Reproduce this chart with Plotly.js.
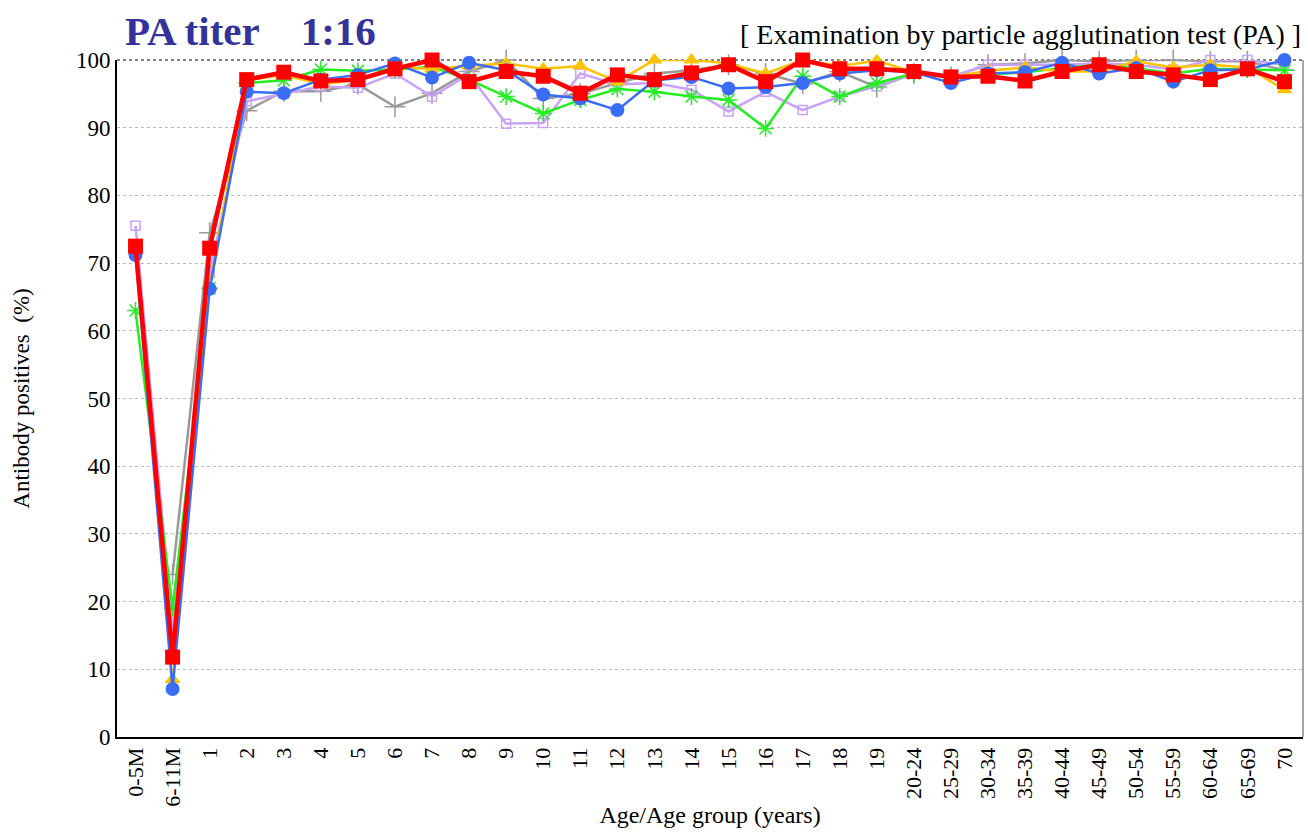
<!DOCTYPE html>
<html><head><meta charset="utf-8">
<script src="https://cdn.plot.ly/plotly-3.0.1.min.js"></script>
<style>body{margin:0;background:#fff}#chart{width:1308px;height:832px}</style>
</head><body><div id="chart"></div>
<script>
const categories = ["0-5M","6-11M","1","2","3","4","5","6","7","8","9","10","11","12","13","14","15","16","17","18","19","20-24","25-29","30-34","35-39","40-44","45-49","50-54","55-59","60-64","65-69","70"];

const seriesGray   = [null, 24.0, 74.5, 92.5, 95.4, 95.4, 96.4, 93.1, 95.1, 98.3, 100, 94.3, 95.0, 96.6, 98.0, 98.5, 99.3, 98.0, 96.5, 98.3, 96.0, 98.0, 97.5, 99.3, 99.5, 100, 99.8, 100, 100, 99.8, 99.8, 98.5];
const seriesPurple = [75.5, 16.0, 68.5, 93.9, 95.0, 96.1, 95.9, 98.0, 94.6, 97.9, 90.6, 90.7, 98.0, 96.4, 96.6, 95.6, 92.4, 95.3, 92.6, 94.6, 96.1, 98.0, 97.5, 99.3, 99.3, 99.3, 99.5, 99.3, 98.6, 100, 100, 99.3];
const seriesGreen  = [63.0, 19.0, 66.3, 96.6, 97.0, 98.6, 98.4, 98.6, 99.0, 97.1, 94.6, 92.1, 94.1, 95.7, 95.3, 94.6, 94.1, 89.9, 97.6, 94.6, 96.6, 98.0, 97.5, 97.9, 98.2, 98.8, 99.3, 98.8, 98.0, 98.7, 98.6, 98.5];
const seriesYellow = [null, 8.5, 66.5, 97.0, 97.8, 96.4, 97.1, 98.9, 98.7, 99.1, 99.5, 98.7, 99.1, 96.8, 100, 100, 99.5, 98.0, 100, 99.1, 99.9, 98.2, 97.5, 98.4, 98.9, 98.3, 98.3, 99.8, 98.9, 99.3, 98.9, 95.6];
const seriesBlue   = [71.2, 7.1, 66.2, 95.3, 95.1, 97.1, 97.8, 99.5, 97.4, 99.6, 98.5, 94.9, 94.3, 92.6, 97.0, 97.5, 95.8, 96.0, 96.6, 98.0, 98.5, 98.2, 96.6, 98.0, 98.2, 99.6, 98.0, 98.8, 96.8, 98.5, 98.6, 100];
const seriesRed    = [72.5, 11.8, 72.2, 97.1, 98.2, 96.9, 97.1, 98.7, 100, 96.8, 98.3, 97.6, 95.1, 97.8, 97.1, 98.1, 99.3, 96.8, 100, 98.7, 98.7, 98.3, 97.5, 97.6, 96.9, 98.3, 99.3, 98.3, 97.8, 97.1, 98.7, 96.8];

const serif = "Liberation Serif, Times New Roman, serif";

function tr(y, color, width, symbol, msize, mline) {
  return {
    x: categories, y: y, type: "scatter", mode: "lines+markers",
    line: {color: color, width: width},
    marker: {symbol: symbol, size: msize, color: color, line: {color: color, width: mline || 0}},
    connectgaps: false, showlegend: false, cliponaxis: false
  };
}

const data = [
  tr(seriesGray,   "#9a9a9a", 2.5, "cross-thin-open", 15, 1.5),
  tr(seriesPurple, "#c9a2f7", 2.5, "square-open", 9, 1.5),
  tr(seriesGreen,  "#22ee22", 2.5, "asterisk-open", 14, 1.5),
  tr(seriesYellow, "#ffc200", 2.5, "triangle-up", 14),
  tr(seriesBlue,   "#3a6df5", 2.5, "circle", 14),
  tr(seriesRed,    "#ff0000", 4.5, "square", 15)
];

const layout = {
  width: 1308, height: 832,
  margin: {l: 117, r: 5, t: 60, b: 95},
  paper_bgcolor: "#fff", plot_bgcolor: "#fff",
  font: {family: serif, color: "#000"},
  xaxis: {
    type: "category", tickangle: -90,
    tickfont: {family: serif, size: 22, color: "#000"},
    showgrid: false, showline: true, linecolor: "#000", linewidth: 2,
    ticks: "", zeroline: false,
    range: [-0.5, categories.length - 0.5],
    title: {text: "Age/Age group (years)", font: {family: serif, size: 24, color: "#000"}, standoff: 0}
  },
  yaxis: {
    range: [0, 100], dtick: 10, tick0: 0,
    tickfont: {family: serif, size: 23, color: "#000"},
    showgrid: true, gridcolor: "#bbbbbb", griddash: "dot", gridwidth: 1,
    showline: true, linecolor: "#000", linewidth: 2, ticks: "", zeroline: false,
    title: {text: "Antibody positives&nbsp;&nbsp;(%)", font: {family: serif, size: 23, color: "#000"}, standoff: 40}
  },
  shapes: [
    {type: "line", xref: "paper", yref: "paper", x0: 0, x1: 1, y0: 1, y1: 1, line: {color: "#555", width: 1.5, dash: "dot"}, layer: "below"},
    {type: "line", xref: "paper", yref: "paper", x0: 1, x1: 1, y0: 0, y1: 1, line: {color: "#888", width: 1.5}, layer: "below"}
  ],
  annotations: [
    {text: "<b>PA titer&nbsp;&nbsp;&nbsp;&nbsp;1:16</b>", xref: "paper", yref: "paper", x: 0.005, y: 1, yshift: 4, xanchor: "left", yanchor: "bottom", showarrow: false, font: {family: serif, size: 41, color: "#333399"}},
    {text: "[ Examination by particle agglutination test (PA) ]", xref: "paper", yref: "paper", x: 1, y: 1, yshift: 8, xanchor: "right", yanchor: "bottom", showarrow: false, font: {family: serif, size: 28, color: "#000"}}
  ]
};

Plotly.newPlot("chart", data, layout, {displayModeBar: false, staticPlot: true});
</script></body></html>
